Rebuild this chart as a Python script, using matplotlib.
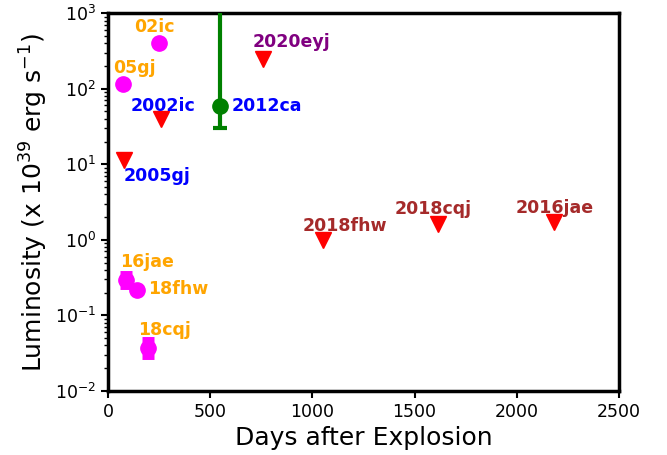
import numpy as np
import matplotlib.pyplot as plt

# upper limits (red triangles)
lim_names = ["2002ic", "2005gj", "2020eyj", "2018fhw", "2018cqj", "2016jae"]
lim_days = [260, 78, 758, 1052, 1615, 2182]
lim_lum = [40, 11.4, 245, 1.0, 1.6, 1.7]
lim_colors = ["blue", "blue", "purple", "brown", "brown", "brown"]
lim_text = [(108, 59), (78, 7.0), (705, 413), (954, 1.52), (1404, 2.55), (1996, 2.63)]

# detections (magenta circles)
det_names = ["02ic", "05gj", "16jae", "18fhw", "18cqj"]
det_days = [250, 73, 88, 142, 196]
det_lum = [400, 115, 0.295, 0.217, 0.037]
det_err_lo = [0, 0, 0.05, 0, 0.008]
det_err_hi = [0, 0, 0.06, 0, 0.010]
det_text = [(127, 653), (24, 187), (59, 0.508), (196, 0.223), (147, 0.064)]

# 2012ca
ca_day = 548
ca_lum = 59
ca_err_lo = 29
ca_err_hi = 5000

fig, ax = plt.subplots(figsize=(6.67, 4.55), dpi=100)
fig.subplots_adjust(left=0.162, right=0.928, top=0.971, bottom=0.141)

ax.plot(lim_days, lim_lum, "v", color="red", ms=11, zorder=3)
for n, (tx, ty), c in zip(lim_names, lim_text, lim_colors):
    ax.text(tx, ty, n, color=c, fontsize=12.5, fontweight="bold", ha="left", va="center")

ax.plot(det_days, det_lum, "o", color="magenta", ms=11, zorder=3)
has_err = [i for i in range(len(det_days)) if det_err_lo[i] > 0]
ax.errorbar([det_days[i] for i in has_err], [det_lum[i] for i in has_err],
            yerr=[[det_err_lo[i] for i in has_err], [det_err_hi[i] for i in has_err]],
            fmt="none", ecolor="magenta", capsize=4.5, capthick=5, elinewidth=3, zorder=3)
for n, (tx, ty) in zip(det_names, det_text):
    ax.text(tx, ty, n, color="orange", fontsize=12.5, fontweight="bold", ha="left", va="center")

ax.errorbar([ca_day], [ca_lum], yerr=[[ca_err_lo], [ca_err_hi]], fmt="o", color="green",
            ms=11, capsize=5, capthick=3, elinewidth=3, zorder=3)
ax.text(607, 59, "2012ca", color="blue", fontsize=12.5, fontweight="bold", ha="left", va="center")

ax.set_yscale("log")
ax.set_xlim(0, 2500)
ax.set_ylim(1e-2, 1e3)
ax.set_xlabel("Days after Explosion", fontsize=18)
ax.set_ylabel("Luminosity (x 10$^{39}$ erg s$^{-1}$)", fontsize=18)
ax.tick_params(labelsize=12.5, width=1.5, length=5)
ax.tick_params(which="minor", width=1, length=3)
for s in ax.spines.values():
    s.set_linewidth(2.5)

plt.savefig("out.png")
